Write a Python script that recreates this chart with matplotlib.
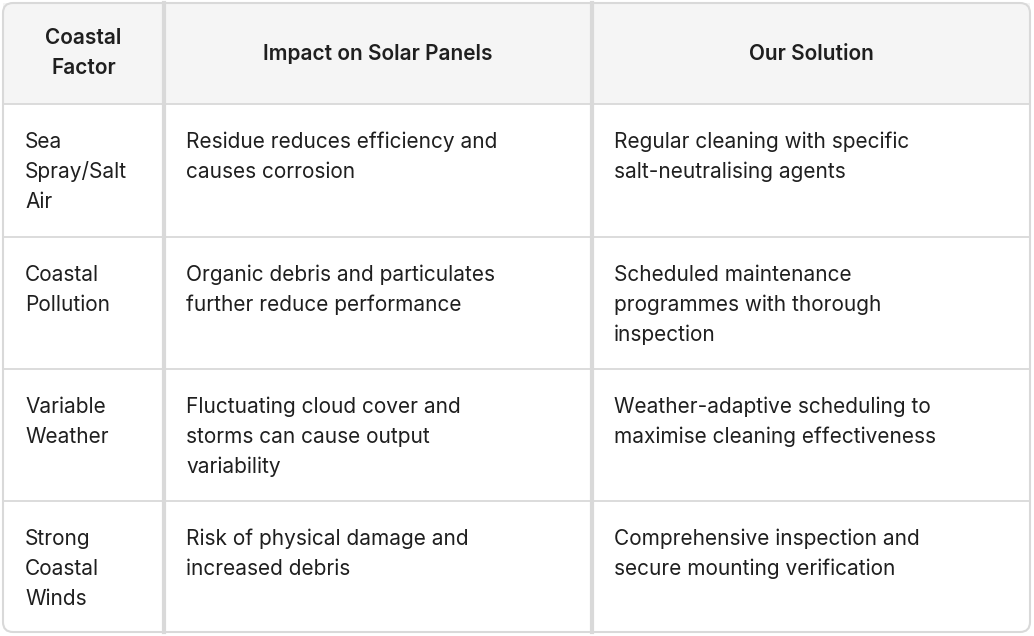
import matplotlib.pyplot as plt
from matplotlib.patches import FancyBboxPatch, Rectangle

# ===============================
# Table content
# ===============================

headers = ["Coastal\nFactor", "Impact on Solar Panels", "Our Solution"]
factors = ["Sea\nSpray/Salt\nAir", "Coastal\nPollution", "Variable\nWeather", "Strong\nCoastal\nWinds"]
impacts = [
    "Residue reduces efficiency and\ncauses corrosion",
    "Organic debris and particulates\nfurther reduce performance",
    "Fluctuating cloud cover and\nstorms can cause output\nvariability",
    "Risk of physical damage and\nincreased debris",
]
solutions = [
    "Regular cleaning with specific\nsalt-neutralising agents",
    "Scheduled maintenance\nprogrammes with thorough\ninspection",
    "Weather-adaptive scheduling to\nmaximise cleaning effectiveness",
    "Comprehensive inspection and\nsecure mounting verification",
]

# ===============================
# Layout (pixels)
# ===============================

W, H = 1034, 636
col_x = [3, 164, 592, 1030]
row_y = [3, 104, 237, 369, 501, 632]
line_h = 30
txt = "#1f1f1f"
grid = "#d9d9d9"
plt.rcParams["font.family"] = "Inter"

fig = plt.figure(figsize=(W / 100, H / 100), dpi=100)
ax = fig.add_axes([0, 0, 1, 1])
ax.set_xlim(0, W)
ax.set_ylim(H, 0)
ax.axis("off")

# header background
ax.add_patch(Rectangle((col_x[0], row_y[0]), col_x[-1] - col_x[0], row_y[1] - row_y[0],
                       facecolor="#f5f5f5", edgecolor="none"))
# row lines
for y in row_y[1:-1]:
    ax.plot([col_x[0], col_x[-1]], [y, y], color=grid, lw=1.3)
# column lines
for x in col_x[1:-1]:
    ax.plot([x, x], [row_y[0], row_y[-1]], color=grid, lw=3)
# outer border
ax.add_patch(FancyBboxPatch((col_x[0], row_y[0]), col_x[-1] - col_x[0], row_y[-1] - row_y[0],
                            boxstyle="round,pad=0,rounding_size=10",
                            facecolor="none", edgecolor=grid, lw=1.5))


def draw_lines(text, x, y0, ha, weight):
    for i, line in enumerate(text.split("\n")):
        ax.text(x, y0 + i * line_h, line, ha=ha, va="center", fontsize=15,
                color=txt, fontweight=weight)


# header
for c, h in enumerate(headers):
    cx = (col_x[c] + col_x[c + 1]) / 2
    n = len(h.split("\n"))
    y0 = (row_y[0] + row_y[1]) / 2 - (n - 1) * line_h / 2
    draw_lines(h, cx, y0, "center", "semibold")

# body
for r in range(len(factors)):
    y0 = row_y[r + 1] + 38
    for c, col in enumerate([factors, impacts, solutions]):
        draw_lines(col[r], col_x[c] + 22, y0, "left", "normal")

fig.savefig("out.png", dpi=100)
